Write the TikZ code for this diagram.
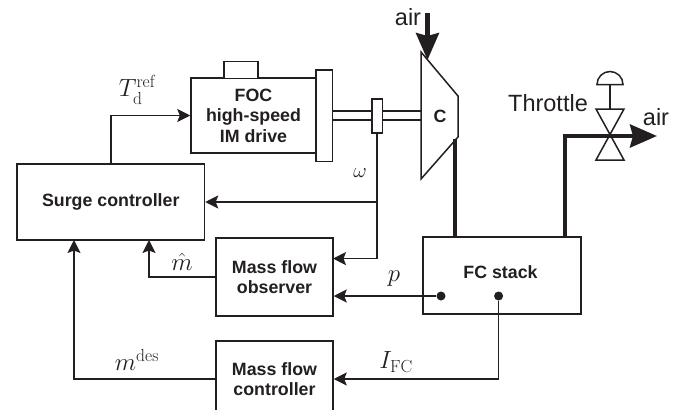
\documentclass[tikz,border=0pt]{standalone}
\usepackage{fontspec}
\newfontfamily\helvfont{Liberation Sans}
\usepackage{amsmath}
\usetikzlibrary{arrows.meta}
\definecolor{inkcolor}{HTML}{231F20}
\tikzset{
 blockbox/.style={draw=inkcolor,line width=1.5pt,inner sep=0pt,align=center,text=inkcolor,
  font=\fontsize{17.8}{20.5}\selectfont\helvfont\bfseries},
 signal/.style={draw=inkcolor,line width=1.5pt,-{Stealth[length=13pt,width=13pt,inset=2.5pt]}},
 thinpart/.style={draw=inkcolor,line width=1.5pt},
 airline/.style={draw=inkcolor,line width=4.2pt},
 airtip/.style={-{Stealth[length=27pt,width=23pt,inset=3pt]}},
 mechpart/.style={draw=inkcolor,line width=1.5pt,fill=white},
 plainlabel/.style={inner sep=0pt,text=inkcolor,font=\fontsize{23.5}{26}\selectfont\helvfont},
 mathlabel/.style={inner sep=0pt,text=inkcolor,font=\fontsize{25}{29}\selectfont},
 junction/.style={circle,fill=inkcolor,inner sep=0pt,minimum size=9pt}
}
\begin{document}
\begin{tikzpicture}[x=1pt,y=-1pt]
 \useasboundingbox (0,0) rectangle (681,410);
 \clip (0,0) rectangle (681,410);
 \node [blockbox,minimum width=187.5pt,minimum height=76pt] (surge) at (110.75,202) {Surge controller};
 \node [blockbox,minimum width=125pt,minimum height=75pt] (motor) at (253.5,115.5) {FOC\\high-speed\\IM drive};
 \node [blockbox,minimum width=117pt,minimum height=78pt] (observer) at (274.5,277) {Mass flow\\observer};
 \node [blockbox,minimum width=117pt,minimum height=76pt] (massctrl) at (274.5,379) {Mass flow\\controller};
 \node [blockbox,minimum width=158pt,minimum height=77pt] (stack) at (502,275.5) {};
 \node [plainlabel,font=\fontsize{17.8}{20}\selectfont\helvfont\bfseries] (stacktext) at (500.5,272) {FC stack};
 \draw [mechpart] (224,78) -- (224,61.5) -- (258,61.5) -- (258,78);
 \node [mechpart,inner sep=0pt,minimum width=16.5pt,minimum height=91.5pt] (flange) at (324.25,115.75) {};
 \draw [thinpart] (332.5,111) -- (421,111);
 \draw [thinpart] (332.5,120) -- (421,120);
 \node [mechpart,inner sep=0pt,minimum width=10.5pt,minimum height=34pt] (coupling) at (377,116) {};
 \draw [mechpart,line join=miter] (421,52) -- (458,96) -- (458,137) -- (421,179) -- cycle;
 \node [blockbox,draw=none] (comptext) at (440,116) {C};
 \coordinate (airtop) at (427.5,13);
 \coordinate (airend) at (427.5,60);
 \coordinate (compout) at (455,139);
 \coordinate (stackin) at (455,238);
 \coordinate (stackout) at (564.7,238);
 \coordinate (valve) at (610,136);
 \coordinate (airtipend) at (657,136);
 \coordinate (omegaturn) at (377,202);
 \coordinate (omegain) at (333,258.6);
 \coordinate (mhatin) at (149,240);
 \coordinate (mdesin) at (74,240);
 \coordinate (trefout) at (111,164);
 \node [junction] (pdot) at (441,296) {};
 \node [junction] (idot) at (498.6,296) {};
 \draw [airline,airtip] (airtop) -- (airend);
 \draw [airline] (compout) -- (stackin);
 \draw [thinpart] (596,109) -- (624,109) -- (596,160) -- (624,160) -- cycle;
 \draw [thinpart] (610,109) -- (610,84.5);
 \draw [thinpart] (597,84.5) arc (180:360:13) -- cycle;
 \draw [airline,airtip,line join=miter] (stackout) -- (stackout |- valve) -- (airtipend);
 \draw [signal] (trefout) |- (motor.west);
 \draw [signal] (omegaturn) -- (surge.east);
 \draw [signal] (coupling.south) |- (omegain);
 \draw [signal] (observer.west) -| (mhatin);
 \draw [signal] (massctrl.west) -| (mdesin);
 \draw [signal] (pdot) -- (pdot -| observer.east);
 \draw [signal] (idot) |- (massctrl.east);
 \node [mathlabel] (treflabel) at (137,90) {$T_{\mathrm{d}}^{\mathrm{ref}}$};
 \node [mathlabel,font=\fontsize{22}{26}\selectfont] (omegalabel) at (360,173) {$\omega$};
 \node [mathlabel] (mhatlabel) at (182,262) {$\hat{m}$};
 \node [mathlabel] (plabel) at (394,279) {$p$};
 \node [mathlabel] (mdeslabel) at (137,360) {$m^{\mathrm{des}}$};
 \node [mathlabel] (ifclabel) at (396,362) {$I_{\mathrm{FC}}$};
 \node [plainlabel] (airinlabel) at (408,17) {air};
 \node [plainlabel] (airoutlabel) at (656,117) {air};
 \node [plainlabel] (throttlelabel) at (548,103) {Throttle};
\end{tikzpicture}
\end{document}
